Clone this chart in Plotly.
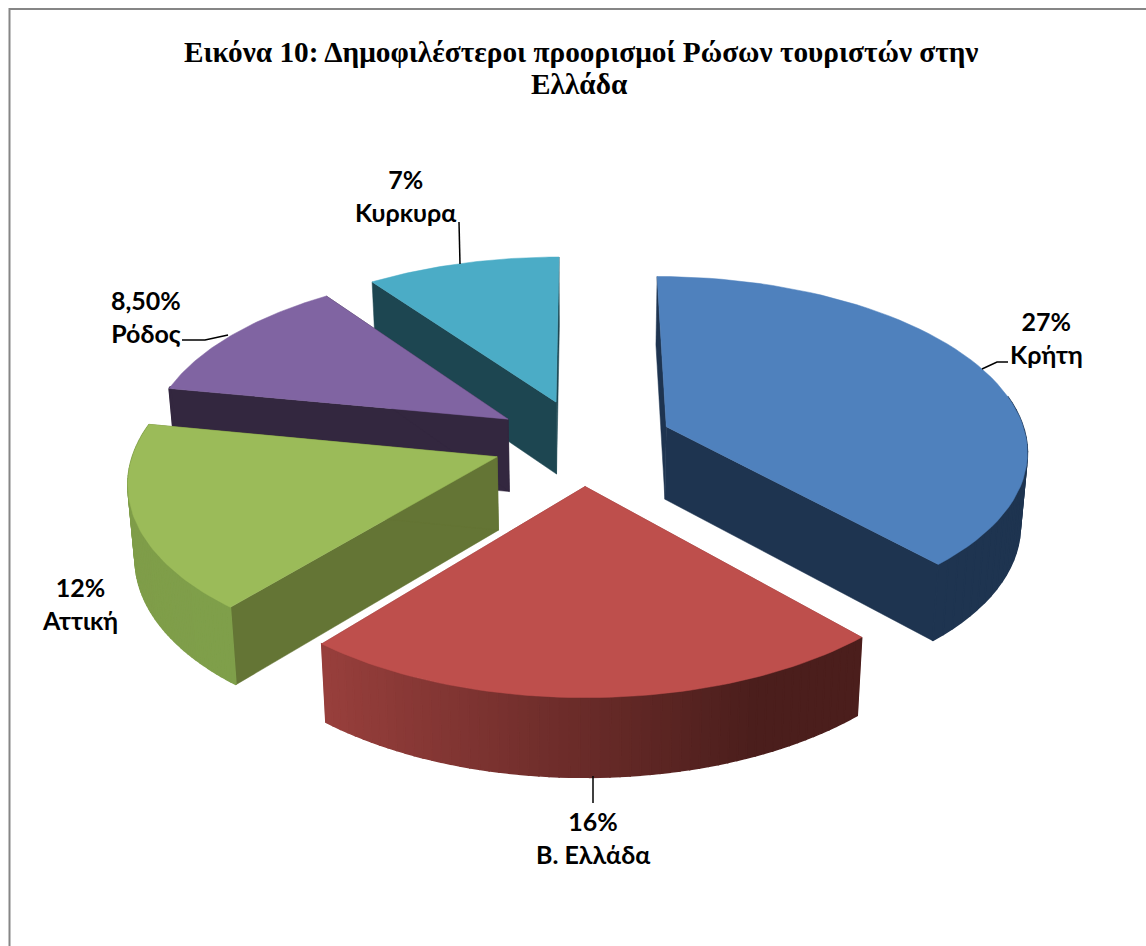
import numpy as np
import plotly.graph_objects as go

# ---- data ----
categories = ["Κρήτη", "Β. Ελλάδα", "Αττική", "Ρόδος", "Κυρκυρα"]
values = [27, 16, 12, 8.5, 7]
value_labels = ["27%", "16%", "12%", "8,50%", "7%"]
title_lines = ["Εικόνα 10: Δημοφιλέστεροι προορισμοί Ρώσων τουριστών στην", "Ελλάδα"]

top_colors = ["#4F81BD", "#BE4F4C", "#9BBB59", "#8064A2", "#4BACC6"]
wall_colors = ["#1E3450", "#8A3533", "#647535", "#33273F", "#1D4651"]
# outer wall gradient stops (left -> right on screen)
rim_left = ["#1E3450", "#983F3C", "#7F9D49", "#33273F", "#1D4651"]
rim_right = ["#1E3450", "#4B1E1C", "#7F9F4A", "#33273F", "#1D4651"]

# ---- projection parameters ----
CX, CY = 583, 442
R = 361
EXPLODE = 0.25
TILT = 0.478
PERSP = 0.125
H = 73
SHRINK = 0.016


def project(u, v, z=0.0):
    s = 1.0 / (1.0 + PERSP * np.asarray(v, dtype=float))
    x = CX + s * u * R * (1 - SHRINK * np.asarray(z) / H)
    y = CY - s * np.asarray(v) * R * TILT + (1 + 0.5 * (s - 1)) * np.asarray(z)
    return x, y


def hex_mix(a, b, t):
    ca = [int(a[i:i + 2], 16) for i in (1, 3, 5)]
    cb = [int(b[i:i + 2], 16) for i in (1, 3, 5)]
    return "rgb({},{},{})".format(*[round(p + (q - p) * t) for p, q in zip(ca, cb)])


fig = go.Figure()


def poly(xs, ys, color, width=0.5):
    fig.add_trace(go.Scatter(
        x=list(xs) + [xs[0]], y=list(ys) + [ys[0]], mode="lines", fill="toself",
        fillcolor=color, line=dict(color=color, width=width),
        hoverinfo="skip", showlegend=False))


total = sum(values)
edges = np.concatenate([[0], np.cumsum(values)]) / total * 2 * np.pi
slices = []
for i in range(len(values)):
    a0, a1 = edges[i], edges[i + 1]
    mid = (a0 + a1) / 2
    slices.append((i, a0, a1, np.sin(mid) * EXPLODE, np.cos(mid) * EXPLODE))

# back-to-front painting order
for i, a0, a1, ou, ov in sorted(slices, key=lambda s: -s[4]):
    ang = np.linspace(a0, a1, 60)
    ru, rv = ou + np.sin(ang), ov + np.cos(ang)
    # radial walls
    for a in (a0, a1):
        pu = np.array([ou, ou + np.sin(a), ou + np.sin(a), ou])
        pv = np.array([ov, ov + np.cos(a), ov + np.cos(a), ov])
        pz = np.array([0, 0, H, H])
        xs, ys = project(pu, pv, pz)
        poly(list(xs), list(ys), wall_colors[i])
    # outer wall, in strips so it can carry a gradient
    xt, yt = project(ru, rv, 0)
    xb, yb = project(ru, rv, H)
    xmin, xmax = xt.min(), xt.max()
    for k in range(len(ang) - 1):
        if np.cos(ang[k]) > 0.2:
            continue
        t = ((xt[k] + xt[k + 1]) / 2 - xmin) / max(xmax - xmin, 1)
        poly([xt[k], xt[k + 1], xb[k + 1], xb[k]], [yt[k], yt[k + 1], yb[k + 1], yb[k]],
             hex_mix(rim_left[i], rim_right[i], min(t / 0.8, 1.0)), width=1.5)
    # top face
    xa, ya = project(np.array([ou]), np.array([ov]), 0)
    poly([xa[0]] + list(xt), [ya[0]] + list(yt), top_colors[i])

# leader lines
leaders_x = [[982, 997, 1008], [593, 593], [182, 205, 228], [459, 460]]
leaders_y = [[369, 362, 362], [776, 803], [340, 340, 335], [222, 264]]
for lx, ly in zip(leaders_x, leaders_y):
    fig.add_trace(go.Scatter(x=lx, y=ly, mode="lines", line=dict(color="black", width=1.5),
                             hoverinfo="skip", showlegend=False))

# data labels
label_pos = [(1046, 337), (593, 837), (80, 603), (146, 316), (405, 195)]
for lab, val, (lx, ly) in zip(categories, value_labels, label_pos):
    fig.add_annotation(x=lx, y=ly, text=f"<b>{val}</b><br><b>{lab}</b>", showarrow=False,
                       font=dict(family="Lato", size=25, color="black"),
                       align="center", xanchor="center", yanchor="middle")

for line, (tx, ty) in zip(title_lines, [(581, 52), (579, 84)]):
    fig.add_annotation(x=tx, y=ty, text=f"<b>{line}</b>", showarrow=False,
                       xanchor="center", yanchor="middle",
                       font=dict(family="Liberation Serif", size=29.3, color="black"))

# chart-area frame (only its top and left sides are in view)
fig.add_trace(go.Scatter(x=[9.5, 9.5, 1146], y=[946, 9, 9], mode="lines",
                         line=dict(color="#868686", width=2), hoverinfo="skip", showlegend=False))

fig.update_layout(
    width=1146, height=946, margin=dict(l=0, r=0, t=0, b=0),
    paper_bgcolor="white", plot_bgcolor="white", showlegend=False,
    xaxis=dict(range=[0, 1146], visible=False, fixedrange=True),
    yaxis=dict(range=[946, 0], visible=False, fixedrange=True),
)
fig.write_html("out.html", config={"displayModeBar": False},
               post_script="document.body.style.margin='0';document.documentElement.style.overflow='hidden';")
